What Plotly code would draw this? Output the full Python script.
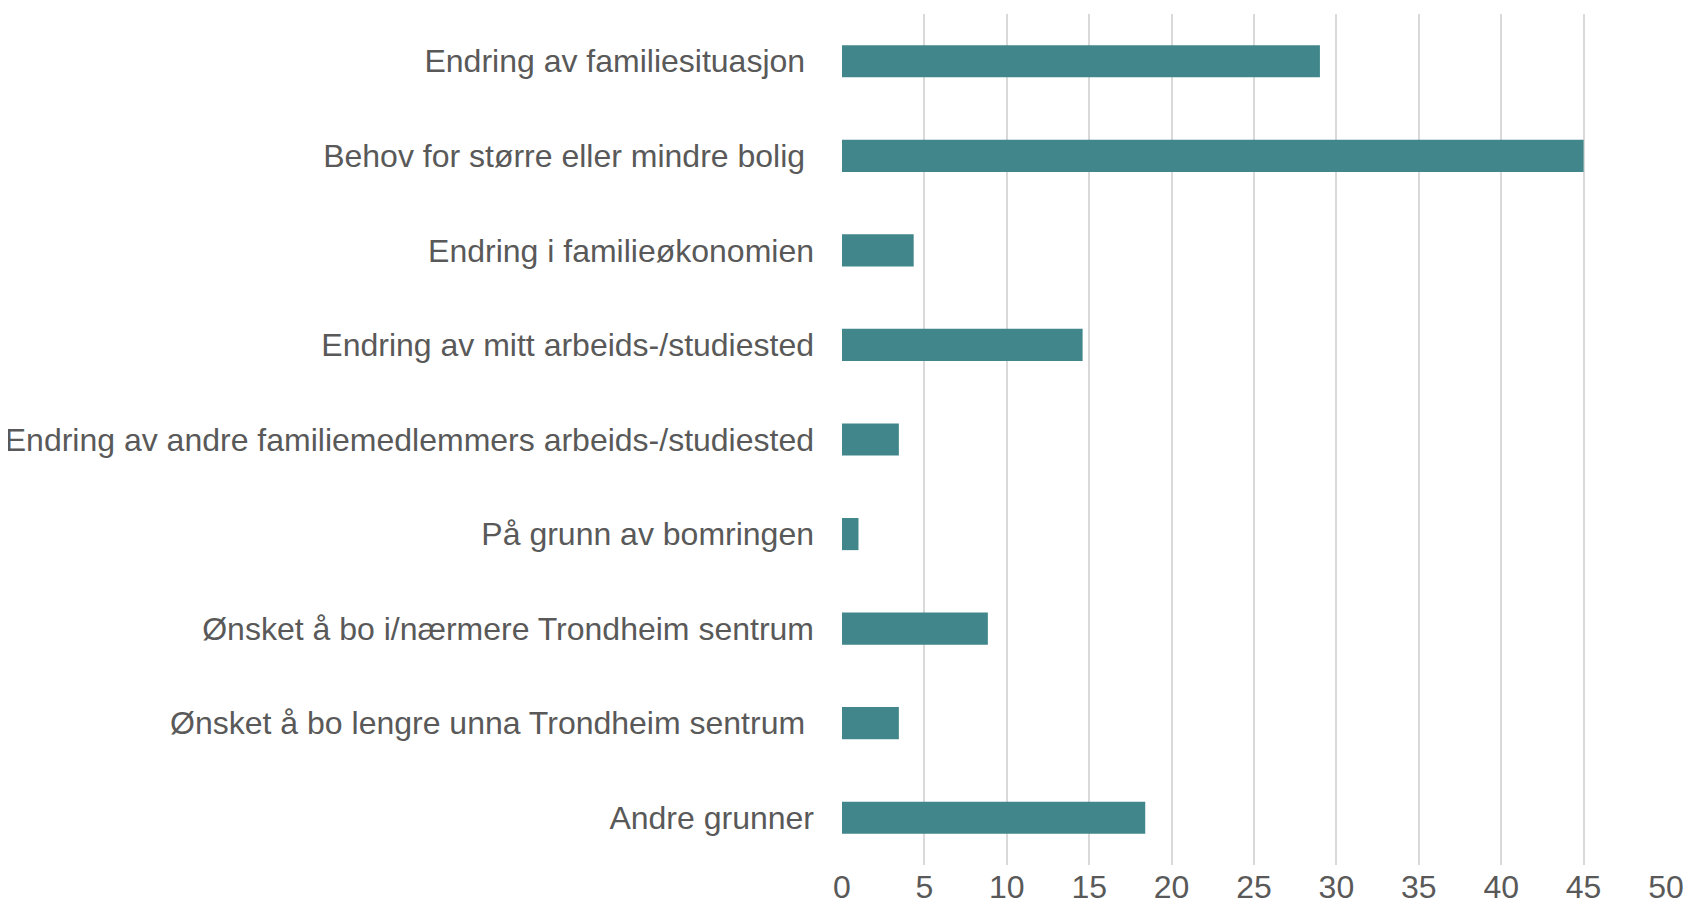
import plotly.graph_objects as go

NBSP = "\u00a0"
categories = [
    "Endring av familiesituasjon" + NBSP,
    "Behov for større eller mindre bolig" + NBSP,
    "Endring i familieøkonomien",
    "Endring av mitt arbeids-/studiested",
    "Endring av andre familiemedlemmers arbeids-/studiested",
    "På grunn av bomringen",
    "Ønsket å bo i/nærmere Trondheim sentrum",
    "Ønsket å bo lengre unna Trondheim sentrum" + NBSP,
    "Andre grunner",
]
values = [29.0, 45.0, 4.35, 14.6, 3.45, 1.0, 8.85, 3.45, 18.4]
x_ticks = [0, 5, 10, 15, 20, 25, 30, 35, 40, 45, 50]

BAR = "#40868A"
TEXT = "#595959"
GRID = "#D9D9D9"
FONT = "Liberation Sans, Arial, sans-serif"

fig = go.Figure(
    go.Bar(
        x=values,
        y=categories,
        orientation="h",
        marker=dict(color=BAR, line=dict(width=0)),
        width=0.34,
        hoverinfo="x+y",
    )
)

fig.update_layout(
    width=1678,
    height=899,
    margin=dict(l=834, r=20, t=6, b=42, pad=0),
    paper_bgcolor="white",
    plot_bgcolor="white",
    font=dict(family=FONT, size=32, color=TEXT),
    showlegend=False,
    xaxis=dict(
        range=[0, 50],
        tickvals=x_ticks,
        ticktext=[str(t) for t in x_ticks],
        showgrid=True,
        gridcolor=GRID,
        gridwidth=2,
        zeroline=False,
        showline=False,
        ticks="",
        ticklabelstandoff=0,
        ticklabeloverflow="allow",
        tickfont=dict(family=FONT, size=32, color=TEXT),
        automargin=False,
        fixedrange=True,
    ),
    yaxis=dict(
        categoryorder="array",
        categoryarray=categories,
        autorange="reversed",
        showgrid=False,
        zeroline=False,
        showline=False,
        ticks="",
        ticklabelstandoff=27,
        ticklabeloverflow="allow",
        tickfont=dict(family=FONT, size=32, color=TEXT),
        automargin=False,
        fixedrange=True,
    ),
)

fig.write_html("out.html")
